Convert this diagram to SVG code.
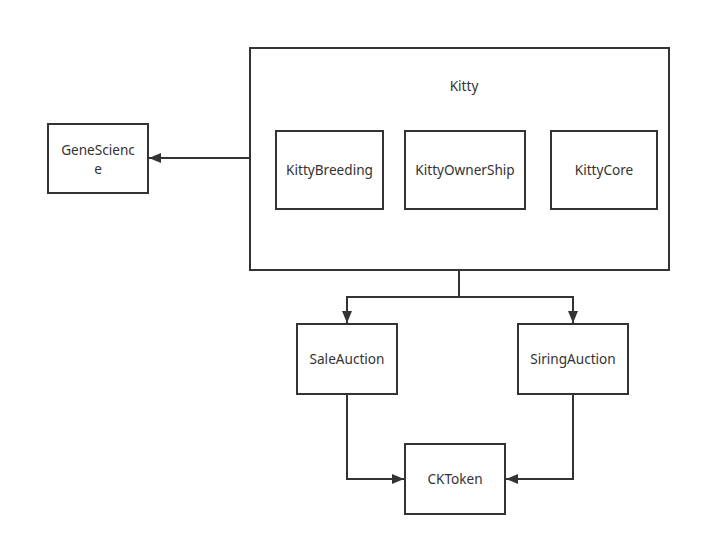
<svg xmlns="http://www.w3.org/2000/svg" width="701" height="546" viewBox="0 0 701 546">
<defs>
<style>
.box{fill:#fff;stroke:#333;stroke-width:2}
.t{font-family:"Noto Sans","DejaVu Sans",sans-serif;font-size:13.6px;fill:#333;text-anchor:middle}
.c{fill:none;stroke:#333;stroke-width:2}
</style>
<marker id="arr" markerWidth="12" markerHeight="10" refX="12" refY="5" orient="auto" markerUnits="userSpaceOnUse">
<path d="M0,0 L12,5 L0,10 Z" fill="#333"/>
</marker>
</defs>
<rect width="701" height="546" fill="#fff"/>
<g id="kitty">
<rect class="box" x="250" y="48" width="419" height="222"/>
<text class="t" x="464" y="91">Kitty</text>
</g>
<g id="kittybreeding">
<rect class="box" x="276" y="131" width="107" height="78"/>
<text class="t" x="329.5" y="175">KittyBreeding</text>
</g>
<g id="kittyownership">
<rect class="box" x="405" y="131" width="120" height="78"/>
<text class="t" x="465" y="175">KittyOwnerShip</text>
</g>
<g id="kittycore">
<rect class="box" x="551" y="131" width="106" height="78"/>
<text class="t" x="604" y="175">KittyCore</text>
</g>
<g id="genescience">
<rect class="box" x="48" y="124" width="100" height="69"/>
<text class="t" x="98" y="155">GeneScienc</text>
<text class="t" x="98" y="174">e</text>
</g>
<g id="saleauction">
<rect class="box" x="297" y="324" width="100" height="70"/>
<text class="t" x="347" y="364">SaleAuction</text>
</g>
<g id="siringauction">
<rect class="box" x="518" y="324" width="110" height="70"/>
<text class="t" x="573" y="364">SiringAuction</text>
</g>
<g id="cktoken">
<rect class="box" x="405" y="444" width="100" height="70"/>
<text class="t" x="455" y="484">CKToken</text>
</g>
<g id="connectors">
<path class="c" d="M250,158 L149,158" marker-end="url(#arr)"/>
<path class="c" d="M459,270 L459,297 L347,297 L347,323" marker-end="url(#arr)"/>
<path class="c" d="M459,297 L573,297 L573,323" marker-end="url(#arr)"/>
<path class="c" d="M347,394 L347,479 L404,479" marker-end="url(#arr)"/>
<path class="c" d="M573,394 L573,479 L506,479" marker-end="url(#arr)"/>
</g>
</svg>
